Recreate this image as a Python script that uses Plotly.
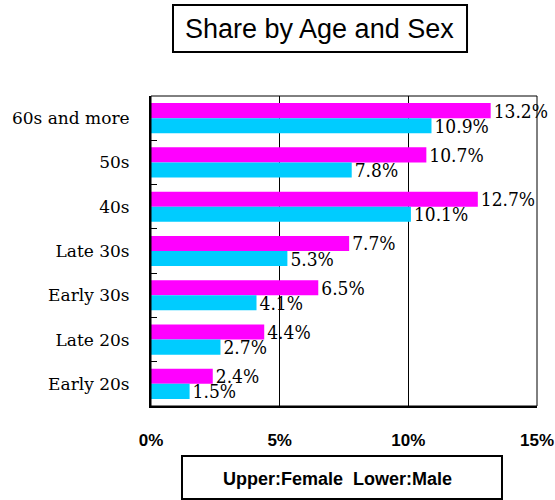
import plotly.graph_objects as go

categories = ["60s and more", "50s", "40s", "Late 30s", "Early 30s", "Late 20s", "Early 20s"]
female = [13.2, 10.7, 12.7, 7.7, 6.5, 4.4, 2.4]
male = [10.9, 7.8, 10.1, 5.3, 4.1, 2.7, 1.5]
x_ticks = [0, 5, 10, 15]
x_tick_labels = ["0%", "5%", "10%", "15%"]

serif = "DejaVu Serif Condensed, DejaVu Serif, Liberation Serif, serif"
serif_cat = "DejaVu Serif, Liberation Serif, serif"
sans = "Liberation Sans, Arial, sans-serif"

fig = go.Figure()
fig.add_trace(go.Bar(
    y=categories, x=female, orientation="h", name="Female",
    marker=dict(color="#FF00FF", line=dict(width=0)),
    text=[f"{v:.1f}%" for v in female], textposition="outside",
    textfont=dict(family=serif, size=19, color="black"),
    cliponaxis=False, constraintext="none",
))
fig.add_trace(go.Bar(
    y=categories, x=male, orientation="h", name="Male",
    marker=dict(color="#00CCFF", line=dict(width=0)),
    text=[f"{v:.1f}%" for v in male], textposition="outside",
    textfont=dict(family=serif, size=19, color="black"),
    cliponaxis=False, constraintext="none",
))

fig.update_layout(
    width=555, height=500,
    margin=dict(l=151, r=18, t=96, b=94, autoexpand=False),
    paper_bgcolor="white", plot_bgcolor="white",
    barmode="group", bargap=0.32, bargroupgap=0,
    showlegend=False,
    xaxis=dict(
        range=[0, 15], tickvals=x_ticks, ticktext=x_tick_labels,
        showgrid=True, gridcolor="black", gridwidth=1,
        zeroline=False, showline=True, linecolor="black", linewidth=2,
        ticks="", ticklabelstandoff=18, automargin=False,
        tickfont=dict(family=sans, size=17, color="black", weight="bold"),
        fixedrange=True,
    ),
    yaxis=dict(
        autorange="reversed", type="category",
        showgrid=False, zeroline=False, showline=True, linecolor="black", linewidth=2,
        ticks="inside", ticklen=6, tickcolor="black", tickwidth=1, tickson="boundaries",
        ticklabelstandoff=16, automargin=False,
        tickfont=dict(family=serif_cat, size=17, color="black"),
        fixedrange=True,
    ),
    shapes=[
        dict(type="rect", xref="paper", yref="paper", x0=0, x1=1, y0=0, y1=1,
             line=dict(color="black", width=1), layer="above"),
        dict(type="rect", xref="paper", yref="paper", x0=0.0570, x1=0.8187, y0=1.1419, y1=1.2935,
             line=dict(color="black", width=2), fillcolor="white"),
        dict(type="rect", xref="paper", yref="paper", x0=0.0803, x1=0.9093, y0=-0.30, y1=-0.1613,
             line=dict(color="black", width=2), fillcolor="white"),
    ],
    annotations=[
        dict(text="Share by Age and Sex", xref="paper", yref="paper", x=0.4378, y=1.2177,
             xanchor="center", yanchor="middle", showarrow=False,
             font=dict(family=sans, size=27, color="black")),
        dict(text="Upper:Female\u00a0\u00a0Lower:Male", xref="paper", yref="paper", x=0.4832, y=-0.2355,
             xanchor="center", yanchor="middle", showarrow=False,
             font=dict(family=sans, size=18, color="black", weight="bold")),
    ],
)

fig.write_html("out.html", config={"displayModeBar": False},
               post_script="document.body.style.margin='0';document.body.style.overflow='hidden';")
